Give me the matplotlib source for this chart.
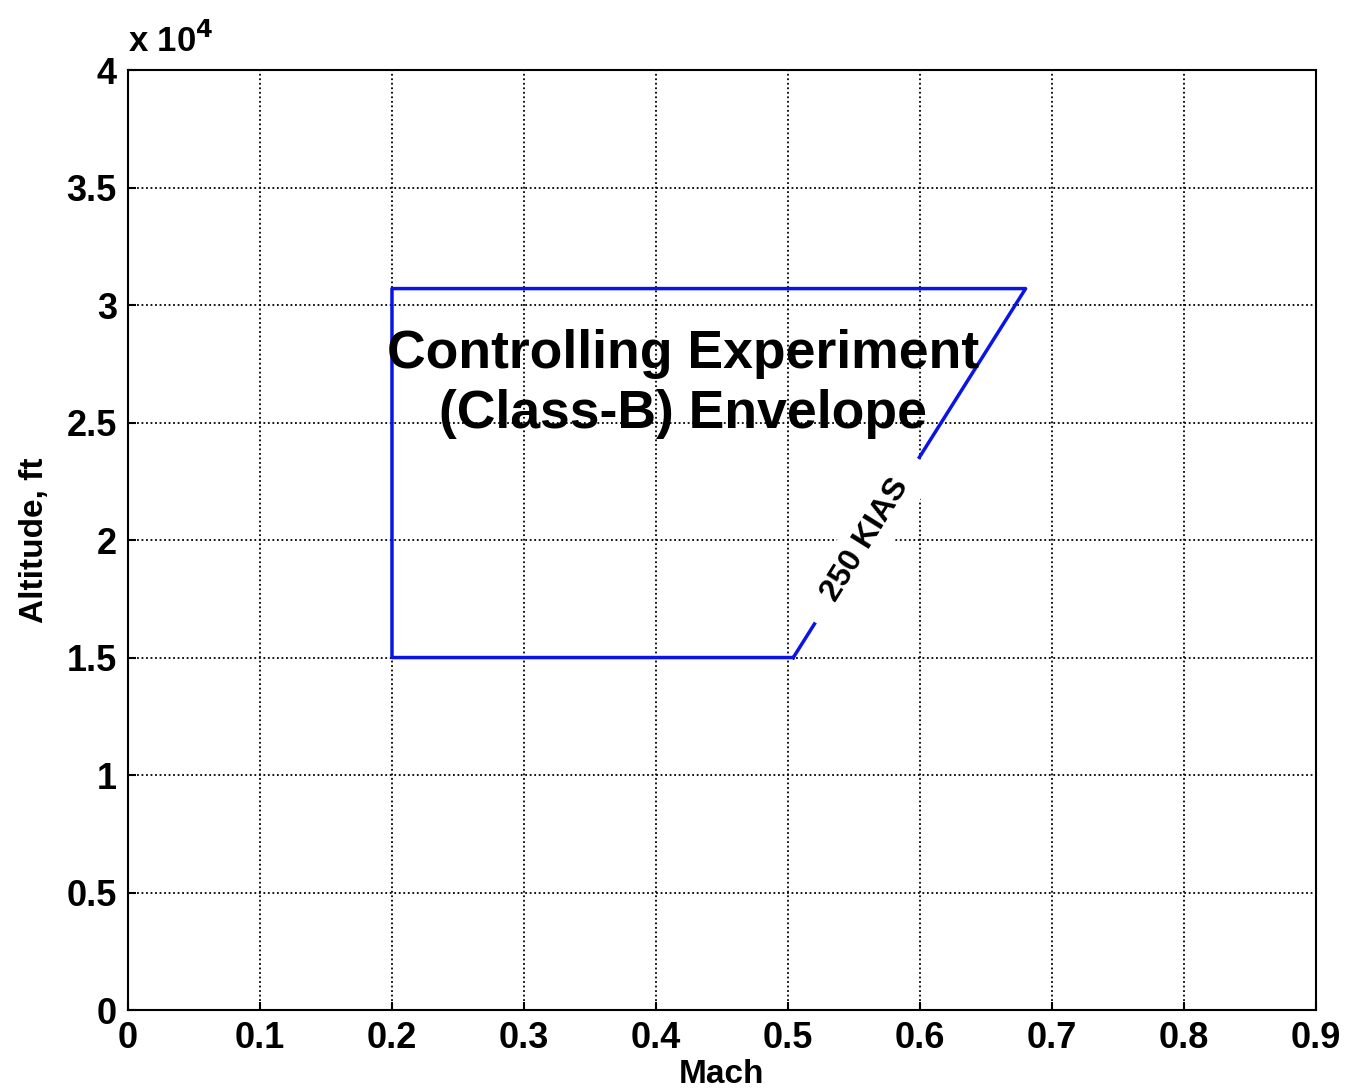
import matplotlib
matplotlib.use("Agg")
import matplotlib.pyplot as plt

plt.rcParams['font.family'] = ['Liberation Sans', 'DejaVu Sans']
plt.rcParams['font.weight'] = 'bold'

# envelope corners (Mach, altitude ft)
mach = [0.504, 0.2, 0.2, 0.68, 0.504]
alt = [15000, 15000, 30700, 30700, 15000]

xticks = [0, 0.1, 0.2, 0.3, 0.4, 0.5, 0.6, 0.7, 0.8, 0.9]
xticklabels = ['0', '0.1', '0.2', '0.3', '0.4', '0.5', '0.6', '0.7', '0.8', '0.9']
yticks = [0, 5000, 10000, 15000, 20000, 25000, 30000, 35000, 40000]
yticklabels = ['0', '0.5', '1', '1.5', '2', '2.5', '3', '3.5', '4']

fig = plt.figure(figsize=(13.47, 10.91), dpi=100)
ax = fig.add_axes([0.095, 0.0742, 0.882, 0.8616])

ax.plot(mach, alt, color='#0a14e6', lw=2.5, zorder=3)

ax.set_xlim(0, 0.9)
ax.set_ylim(0, 40000)
ax.set_xticks(xticks)
ax.set_xticklabels(xticklabels)
ax.set_yticks(yticks)
ax.set_yticklabels(yticklabels)
ax.tick_params(direction='in', length=6, width=1.5, labelsize=26, pad=8)
for s in ax.spines.values():
    s.set_linewidth(1.5)
ax.grid(True, color='black', linestyle=(0, (1, 1.5)), linewidth=1.3)

ax.set_xlabel('Mach', fontsize=24, fontweight='bold', labelpad=2)
ax.set_ylabel('Altitude, ft', fontsize=24, fontweight='bold', labelpad=12)

ax.text(0.0, 1.012, r'x 10$^\mathbf{4}$', transform=ax.transAxes, fontsize=25,
        fontweight='bold', ha='left', va='bottom')

ax.text(0.4205, 26650, 'Controlling Experiment\n(Class-B) Envelope', fontsize=38.5,
        fontweight='bold', ha='center', va='center', linespacing=1.25, zorder=4)

ax.text(0.559, 20000, '  250 KIAS  ', fontsize=23, fontweight='bold', rotation=58,
        ha='center', va='center', rotation_mode='anchor', zorder=5,
        bbox=dict(facecolor='white', edgecolor='none', pad=7))

fig.savefig('out.png', dpi=100)
